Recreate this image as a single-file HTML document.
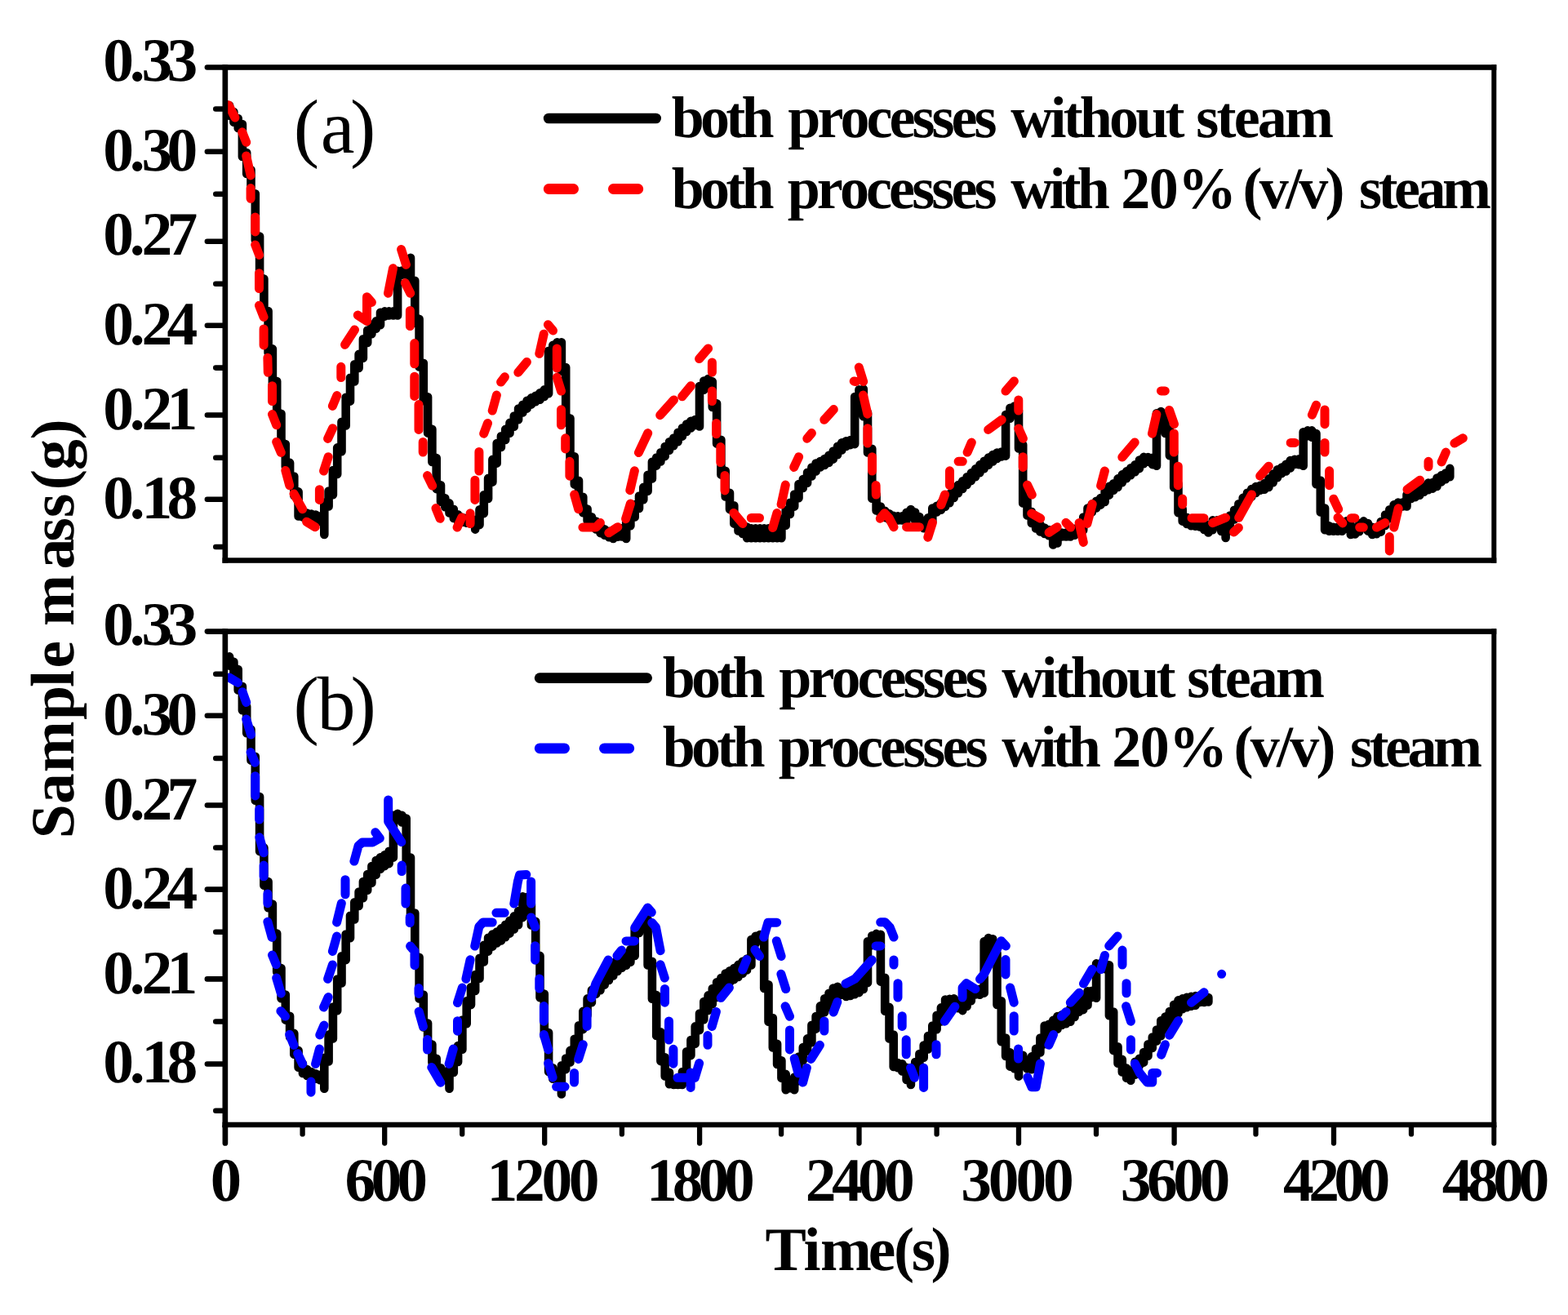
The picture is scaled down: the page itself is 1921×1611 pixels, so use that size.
<!DOCTYPE html>
<html lang="en">
<head>
<meta charset="utf-8">
<title>Sample mass vs time</title>
<style>
html,body{margin:0;padding:0;background:#fff;}
body{width:1921px;height:1611px;overflow:hidden;font-family:"Liberation Serif","Times New Roman",serif;}
svg{display:block;}
svg text{white-space:pre;}
</style>
</head>
<body>
<svg width="1921" height="1611" viewBox="0 0 1921 1611" font-family="'Liberation Serif', 'Times New Roman', serif" style="display:block;font-kerning:none" text-rendering="geometricPrecision">
<rect width="1921" height="1611" fill="#fff"/>
<clipPath id="cpA"><rect x="274" y="86" width="1556" height="598"/></clipPath><clipPath id="cpB"><rect x="274" y="777" width="1556" height="598"/></clipPath>
<g id="panel-a-curves" clip-path="url(#cpA)">
<path d="M275.8 127V134.1M281.1 129.3V141.8M275.8 131.6L281.1 131.8M286.4 137V149.8M281.1 139.3L286.4 139.5M291.7 145V156.9M286.4 147.3L291.7 147.5M296.9 152.1V191.9M291.7 154.4L296.9 154.6M302.2 187V212.9M296.9 189.4L302.2 189.5M307.5 208.1V242.1M302.2 210.4L307.5 210.6M312.8 237.2V294.3M307.5 239.6L312.8 239.7M318.1 289.5V346.4M312.8 291.8L318.1 292M323.4 341.5V385.8M318.1 343.9L323.4 344M328.6 381V432.2M323.4 383.3L328.6 383.5M333.9 427.4V471.9M328.6 429.7L333.9 429.9M339.2 467.1V511.5M333.9 469.4L339.2 469.6M344.5 506.7V548.9M339.2 509L344.5 509.2M349.8 544.1V571.7M344.5 546.4L349.8 546.6M355.1 566.9V588.4M349.8 569.2L355.1 569.4M360.3 583.6V607.2M355.1 585.9L360.3 586.1M365.6 602.4V632.5M360.3 604.7L365.6 604.9M370.9 627.5V633.5M365.6 630L370.9 630M376.2 628.6V634.5M370.9 631L376.2 631.1M381.5 629.6V635.6M376.2 632L381.5 632.1M386.8 630.6V637.1M381.5 633.1L386.8 633.1M392 632.2V639.1M386.8 634.6L392 634.7M397.3 615.6V654.9M392 636.6L397.3 636.7M402.6 601.5V620.4M397.3 618.1L402.6 617.9M407.9 576.1V606.3M402.6 604L407.9 603.8M413.2 548.4V580.9M407.9 578.6L413.2 578.4M418.5 516.8V553.2M413.2 550.9L418.5 550.7M423.7 486.8V521.5M418.5 519.3L423.7 519M429 462.8V491.6M423.7 489.3L429 489.1M434.3 446.2V467.5M429 465.3L434.3 465M439.6 433.9V450.9M434.3 448.7L439.6 448.4M444.9 415.2V438.7M439.6 436.4L444.9 436.2M450.2 404.5V419.9M444.9 417.7L450.2 417.4M455.4 397.9V409.3M450.2 407L455.4 406.8M460.7 393.4V402.7M455.4 400.4L460.7 400.2M466 382.7V398.3M460.7 395.9L466 395.8M471.3 381.4V387.6M466 385.2L471.3 385.1M476.6 381.4V386.4M471.3 383.9L476.6 383.9M481.9 381.4V386.4M476.6 383.9L481.9 383.9M487.1 331.8V386.4M481.9 383.9L487.1 383.9M492.4 331.5V336.8M487.1 334.3L492.4 334.3M497.7 329.5V336.5M492.4 334L497.7 334M503 315.8V348.5M497.7 332L503 331.8M508.3 343.7V395.6M503 346L508.3 346.2M513.6 390.8V449.5M508.3 393.1L513.6 393.3M518.8 444.7V491.2M513.6 447L518.8 447.2M524.1 486.3V530.6M518.8 488.7L524.1 488.8M529.4 525.8V565.9M524.1 528.1L529.4 528.3M534.7 561V599.1M529.4 563.4L534.7 563.5M540 594.3V615M534.7 596.6L540 596.8M545.3 610.2V621.2M540 612.5L545.3 612.7M550.5 616.4V628.5M545.3 618.7L550.5 618.9M555.8 623.8V635M550.5 626L555.8 626.3M561.1 630.2V638.7M555.8 632.5L561.1 632.7M566.4 633.7V639.7M561.1 636.2L566.4 636.2M571.7 634.7V640.7M566.4 637.2L571.7 637.2M577 635.8V641.8M571.7 638.2L577 638.3M582.2 636.8V648.6M577 639.3L582.2 639.3M587.5 624.3V643.1M582.2 640.9L587.5 640.6M592.8 606.3V629.1M587.5 626.8L592.8 626.6M598.1 585.9V611M592.8 608.8L598.1 608.5M603.4 562.9V590.6M598.1 588.4L603.4 588.1M608.7 543.1V567.6M603.4 565.4L608.7 565.1M613.9 534.2V547.9M608.7 545.6L613.9 545.4M619.2 525.9V539M613.9 536.7L619.2 536.5M624.5 517.9V530.7M619.2 528.4L624.5 528.2M629.8 509.5V522.7M624.5 520.4L629.8 520.2M635.1 500.6V514.3M629.8 512L635.1 511.8M640.4 495.8V505.5M635.1 503.1L640.4 503M645.6 490.8V500.6M640.4 498.3L645.6 498.1M650.9 487.4V495.6M645.6 493.3L650.9 493.1M656.2 484.8V492.3M650.9 489.9L656.2 489.8M661.5 481.2V489.7M656.2 487.3L661.5 487.2M666.8 477.4V486M661.5 483.7L666.8 483.5M672.1 429.7V482.3M666.8 479.9L672.1 479.8M677.3 422.9V434.4M672.1 432.2L677.3 431.9M682.6 419.2V427.8M677.3 425.4L682.6 425.3M687.9 419.2V454.8M682.6 421.7L687.9 421.7M693.2 450V517.4M687.9 452.3L693.2 452.5M698.5 512.6V563.9M693.2 514.9L698.5 515.1M703.8 559.2V593.6M698.5 561.4L703.8 561.7M709 588.8V613.5M703.8 591.1L709 591.3M714.3 608.8V628.2M709 611L714.3 611.3M719.6 623.5V638.1M714.3 625.7L719.6 626M724.9 633.2V643.3M719.6 635.6L724.9 635.7M730.2 638.5V648.5M724.9 640.8L730.2 641M735.5 643.6V653.1M730.2 646L735.5 646.1M740.7 648.2V655.8M735.5 650.6L740.7 650.7M746 650.9V658.3M740.7 653.3L746 653.4M751.3 652.9V659.9M746 655.8L751.3 655.9M756.6 648.1V657.7M751.3 655.4L756.6 655.2M761.9 647.4V657.5M756.6 650.6L761.9 650.4M767.2 639.5V659.9M761.9 655L767.2 655.1M772.4 628.7V644.2M767.2 642L772.4 641.7M777.7 618.1V633.5M772.4 631.2L777.7 631M783 607.5V622.9M777.7 620.6L783 620.4M788.3 596.9V612.3M783 610L788.3 609.8M793.6 581.7V601.7M788.3 599.4L793.6 599.2M798.9 565.8V586.4M793.6 584.2L798.9 583.9M804.2 560.6V570.6M798.9 568.3L804.2 568.1M809.4 554.3V565.4M804.2 563.1L809.4 562.9M814.7 547V559.1M809.4 556.8L814.7 556.6M820 541.3V551.8M814.7 549.5L820 549.3M825.3 536.5V546.2M820 543.8L825.3 543.7M830.6 529.8V541.3M825.3 539L830.6 538.8M835.9 524.2V534.6M830.6 532.3L835.9 532.1M841.1 519.6V529M835.9 526.7L841.1 526.5M846.4 515.8V524.5M841.1 522.1L846.4 522M851.7 514.1V520.9M846.4 518.3L851.7 518.2M857 473V522.5M851.7 518.4L857 518.5M862.3 466.6V477.8M857 475.5L862.3 475.3M867.6 464.1V472.2M862.3 469.1L867.6 469M872.8 467.4V499M867.6 469.7L872.8 469.9M878.1 494.3V543.6M872.8 496.5L878.1 496.8M883.4 538.8V581.6M878.1 541.1L883.4 541.3M888.7 576.8V608.5M883.4 579.1L888.7 579.3M894 603.7V624.1M888.7 606L894 606.2M899.3 619.3V641.6M894 621.6L899.3 621.8M904.5 636.8V650.4M899.3 639.1L904.5 639.3M909.8 645.5V653.9M904.5 647.9L909.8 648M915.1 645.5V659.2M909.8 651.4L915.1 651.5M920.4 647.2V659.2M915.1 653.2L920.4 653.2M925.7 647.2V659.2M920.4 653.2L925.7 653.2M931 647.2V659.2M925.7 653.2L931 653.2M936.2 647.2V659.2M931 653.2L936.2 653.2M941.5 647.2V659.2M936.2 653.2L941.5 653.2M946.8 647.2V659.2M941.5 653.2L946.8 653.2M952.1 647.2V659.2M946.8 653.2L952.1 653.2M957.4 635.5V659.2M952.1 653.2L957.4 653.2M962.7 625.1V643.8M957.4 641.5L962.7 641.3M967.9 615.7V629.9M962.7 627.6L967.9 627.4M973.2 605.5V620.6M967.9 618.2L973.2 618.1M978.5 593.1V610.3M973.2 608L978.5 607.8M983.8 587.1V598M978.5 595.6L983.8 595.5M989.1 578.7V591.8M983.8 589.6L989.1 589.3M994.4 572.6V583.5M989.1 581.2L994.4 581M999.6 567.5V577.4M994.4 575.1L999.6 574.9M1004.9 565V572.4M999.6 570L1004.9 569.9M1010.2 562V569.9M1004.9 567.5L1010.2 567.4M1015.5 557.8V566.9M1010.2 564.5L1015.5 564.4M1020.8 552.5V562.6M1015.5 560.3L1020.8 560.1M1026.1 546.7V557.3M1020.8 555L1026.1 554.8M1031.3 542.2V551.5M1026.1 549.2L1031.3 549M1036.6 540.2V547M1031.3 544.7L1036.6 544.5M1041.9 539.1V545.1M1036.6 542.7L1041.9 542.6M1047.2 486V544.1M1041.9 541.6L1047.2 541.6M1052.5 477.3V490.8M1047.2 488.5L1052.5 488.3M1057.8 476.6V510.3M1052.5 479.8L1057.8 479.6M1063 505.5V554.5M1057.8 507.8L1063 508M1068.3 549.8V610.7M1063 552L1068.3 552.3M1073.6 605.9V625.4M1068.3 608.2L1073.6 608.4M1078.9 620.5V630.6M1073.6 622.9L1078.9 623M1084.2 625.8V634.1M1078.9 628.1L1084.2 628.3M1089.5 629.2V636.8M1084.2 631.6L1089.5 631.7M1094.7 631.9V637.4M1089.5 634.3L1094.7 634.4M1100 632.4V637.4M1094.7 634.9L1100 634.9M1105.3 632.4V637.4M1100 634.9L1105.3 634.9M1110.6 627.8V637.4M1105.3 634.9L1110.6 634.9M1115.9 624.1V632.6M1110.6 630.3L1115.9 630.1M1121.2 627.5V637.8M1115.9 629.8L1121.2 630M1126.4 633V643.1M1121.2 635.3L1126.4 635.5M1131.7 638.3V647.3M1126.4 640.6L1131.7 640.8M1137 634.2V649M1131.7 644.8L1137 645M1142.3 622.6V639M1137 636.7L1142.3 636.5M1147.6 619.8V627.5M1142.3 625.1L1147.6 625M1152.9 615.9V624.7M1147.6 622.3L1152.9 622.2M1158.1 611.4V620.8M1152.9 618.4L1158.1 618.2M1163.4 605.1V616.2M1158.1 613.9L1163.4 613.7M1168.7 599.3V609.9M1163.4 607.6L1168.7 607.4M1174 594.1V604.2M1168.7 601.8L1174 601.7M1179.3 589.2V598.9M1174 596.6L1179.3 596.4M1184.6 584.2V594M1179.3 591.7L1184.6 591.5M1189.8 579.4V589.1M1184.6 586.7L1189.8 586.6M1195.1 574.4V584.2M1189.8 581.9L1195.1 581.7M1200.4 569.4V579.2M1195.1 576.9L1200.4 576.7M1205.7 564.8V574.2M1200.4 571.9L1205.7 571.7M1211 560.6V569.7M1205.7 567.3L1211 567.2M1216.3 557V565.5M1211 563.1L1216.3 563M1221.5 554.6V561.9M1216.3 559.5L1221.5 559.4M1226.8 553.6V559.5M1221.5 557.1L1226.8 557M1232.1 508.1V558.6M1226.8 556.1L1232.1 556.1M1237.4 499.7V512.8M1232.1 510.6L1237.4 510.3M1242.7 497.5V508.1M1237.4 502.2L1242.7 502.1M1248 503.3V549.5M1242.7 505.6L1248 505.8M1253.2 544.8V616.4M1248 547L1253.2 547.2M1258.5 611.7V631.4M1253.2 613.9L1258.5 614.2M1263.8 626.7V641M1258.5 628.9L1263.8 629.2M1269.1 636.2V647.4M1263.8 638.5L1269.1 638.7M1274.4 642.6V651.4M1269.1 644.9L1274.4 645.1M1279.7 646.5V653.9M1274.4 648.9L1279.7 649M1284.9 649V656.3M1279.7 651.4L1284.9 651.5M1290.2 651.4V667.5M1284.9 653.8L1290.2 653.9M1295.5 652.5V665.5M1290.2 663.3L1295.5 663M1300.8 652.5V657.5M1295.5 655L1300.8 655M1306.1 652.5V657.5M1300.8 655L1306.1 655M1311.4 650.8V657.5M1306.1 655L1311.4 655M1316.6 647.7V655.7M1311.4 653.3L1316.6 653.2M1321.9 644.5V652.5M1316.6 650.2L1321.9 650M1327.2 633.6V649.4M1321.9 647L1327.2 646.9M1332.5 622.6V638.3M1327.2 636.1L1332.5 635.8M1337.8 617.6V627.4M1332.5 625.1L1337.8 624.9M1343.1 613.8V622.5M1337.8 620.1L1343.1 620M1348.4 610.1V618.6M1343.1 616.3L1348.4 616.1M1353.6 601.9V614.9M1348.4 612.6L1353.6 612.4M1358.9 595.9V606.6M1353.6 604.4L1358.9 604.1M1364.2 592.2V600.7M1358.9 598.4L1364.2 598.2M1369.5 586.4V597M1364.2 594.7L1369.5 594.5M1374.8 581.4V591.2M1369.5 588.9L1374.8 588.7M1380.1 577.4V586.2M1374.8 583.9L1380.1 583.7M1385.3 573.3V582.2M1380.1 579.9L1385.3 579.7M1390.6 569.3V578.2M1385.3 575.8L1390.6 575.7M1395.9 563.5V574.1M1390.6 571.8L1395.9 571.6M1401.2 559.9V568.3M1395.9 566L1401.2 565.8M1406.5 560.1V565.8M1401.2 562.6L1406.5 562.6M1411.8 560.9V569.1M1406.5 563.3L1411.8 563.4M1417 506.2V570.7M1411.8 566.6L1417 566.7M1422.3 504.1V512M1417 508.7L1422.3 508.6M1427.6 507.3V530.9M1422.3 509.5L1427.6 509.8M1432.9 526.2V558.2M1427.6 528.4L1432.9 528.7M1438.2 553.5V597.2M1432.9 555.7L1438.2 556M1443.5 592.5V628.2M1438.2 594.7L1443.5 595M1448.7 623.5V638.6M1443.5 625.7L1448.7 626M1454 633.8V642M1448.7 636.1L1454 636.3M1459.3 637.2V644.2M1454 639.5L1459.3 639.7M1464.6 639.3V644.8M1459.3 641.7L1464.6 641.8M1469.9 639.9V645.4M1464.6 642.3L1469.9 642.4M1475.2 640.4V649M1469.9 642.9L1475.2 642.9M1480.4 644.1V652.4M1475.2 646.5L1480.4 646.6M1485.7 637.4V649.2M1480.4 646.9L1485.7 646.7M1491 637.4V643.4M1485.7 639.9L1491 639.9M1496.3 638.5V650.9M1491 640.9L1496.3 641M1501.6 645.3V659M1496.3 648.4L1501.6 648.6M1506.9 631.6V650.1M1501.6 647.8L1506.9 647.6M1512.1 624.8V636.4M1506.9 634.1L1512.1 633.9M1517.4 617.3V629.6M1512.1 627.3L1517.4 627.1M1522.7 609.9V622.1M1517.4 619.8L1522.7 619.6M1528 603.8V614.7M1522.7 612.4L1528 612.2M1533.3 599.1V608.6M1528 606.3L1533.3 606.1M1538.6 596V604M1533.3 601.6L1538.6 601.5M1543.8 594.8V600.8M1538.6 598.5L1543.8 598.3M1549.1 592.1V599.7M1543.8 597.3L1549.1 597.2M1554.4 586.3V596.9M1549.1 594.6L1554.4 594.4M1559.7 580.5V591.2M1554.4 588.8L1559.7 588.7M1565 575.3V585.3M1559.7 583L1565 582.8M1570.3 572.6V580.1M1565 577.8L1570.3 577.6M1575.5 568.7V577.5M1570.3 575.1L1575.5 575M1580.8 564V573.5M1575.5 571.2L1580.8 571M1586.1 562.7V569M1580.8 566.5L1586.1 566.5M1591.4 562.4V569.3M1586.1 565.2L1591.4 565.2M1596.7 529.3V570.7M1591.4 566.8L1596.7 566.9M1602 527.4V534.2M1596.7 531.8L1602 531.7M1607.2 527.4V535.8M1602 529.9L1607.2 529.9M1612.5 531V593.3M1607.2 533.3L1612.5 533.5M1617.8 588.5V627.5M1612.5 590.8L1617.8 591M1623.1 622.6V649.2M1617.8 625L1623.1 625.1M1628.4 644.3V650.7M1623.1 646.7L1628.4 646.8M1633.7 645.7V650.7M1628.4 648.2L1633.7 648.2M1638.9 645.7V650.7M1633.7 648.2L1638.9 648.2M1644.2 643V650.7M1638.9 648.2L1644.2 648.2M1649.5 638.4V647.8M1644.2 645.5L1649.5 645.3M1654.8 642.7V654.9M1649.5 644.9L1654.8 645.2M1660.1 646.5V654.4M1654.8 652L1660.1 651.9M1665.4 641.1V651.3M1660.1 649L1665.4 648.8M1670.6 638.4V645.9M1665.4 643.6L1670.6 643.4M1675.9 641V650.6M1670.6 643.4L1675.9 643.5M1681.2 645.8V654.9M1675.9 648.1L1681.2 648.3M1686.5 646.7V654.3M1681.2 651.9L1686.5 651.8M1691.8 639.1V651.6M1686.5 649.2L1691.8 649.1M1697.1 630.5V643.9M1691.8 641.6L1697.1 641.4M1702.3 624.2V635.3M1697.1 633L1702.3 632.8M1707.6 618.4V629M1702.3 626.7L1707.6 626.5M1712.9 615.5V623.2M1707.6 620.9L1712.9 620.7M1718.2 615.5V620.5M1712.9 618L1718.2 618M1723.5 606.1V620.5M1718.2 618L1723.5 618M1728.8 604.1V611M1723.5 608.6L1728.8 608.5M1734 601.9V609.1M1728.8 606.6L1734 606.6M1739.3 597.8V606.7M1734 604.4L1739.3 604.2M1744.6 595.5V602.8M1739.3 600.3L1744.6 600.3M1749.9 591.6V600.3M1744.6 598L1749.9 597.8M1755.2 591.1V598.6M1749.9 594.8L1755.2 594.9M1760.5 585.6V595.9M1755.2 593.6L1760.5 593.4M1765.7 582.4V590.5M1760.5 588.1L1765.7 588M1771 579.5V587.3M1765.7 584.9L1771 584.8M1776.3 573.9V584.3M1771 582L1776.3 581.8" fill="none" stroke="#000" stroke-width="10.6" stroke-linecap="round" stroke-linejoin="round"/>
<path d="M280 128.7L287.9 144.1 M296.7 161.8L301.7 174.3 M301.7 191L307.1 214.9 M307.1 230.6L307.1 243.3 M312.7 266L312.7 283.9 M312.7 299.9L317.5 312.4 M317.5 334.7L317.5 353.6 M317.5 374.2L323.1 388.4 M323.1 402.9L323.1 422.9 M327.9 438.3L328.3 456.2 M333.5 472.7L333.5 491.6 M333.5 507.6L338.7 520.8 M338.7 541.4L344.3 554.5 M349.8 576.4L354.7 594.7 M360 604.9L370.6 623.8 M375.6 639.2L386.2 645.7 M391.4 599.7L391.4 612.4 M396.6 577L402.2 559.7 M401.6 537.4L407.6 524.7 M407.4 497.4L412.8 484.5 M417.8 449.3L417.8 462.5 M422.6 422.3L434.5 404 M438.3 386.1L449.5 393.5L449.5 363.7L455.4 370.4 M475.5 359.3L481.5 328.7 M491.6 305.6L497.5 324.3 M496.4 346.6L502.7 359.3 M502.4 380.5L502.4 399.5 M507.8 420.6L507.8 445.8 M507.8 461.2L507.8 485.4 M513 495.6L513 526.4 M518.2 541.4L518.2 554.1 M523.6 582.6L529.7 595.1 M534 622.6L539.2 635.3 M560.1 646.1L565.7 634 M576.1 628.8L576.1 641.5 M581.9 588.2L581.9 612.4 M586.9 553.5L586.9 577 M592.7 531.2L597.5 518.5 M603.2 503.1L608.4 484.1 M613.6 468.1L618.4 461.8 M634.8 456.2L645.4 443.5 M660.8 433.3L666.2 409.2 M671.4 397.7L677.5 405 M682.3 426.9L682.3 451 M682.3 462.3L687.5 479.1 M687.5 501.8L687.5 520.8 M692.7 536.8L692.7 549.9 M697.9 565.3L697.9 583.2 M703.7 605.9L708.7 623.8 M713.9 646.1L730.2 646.1L735.4 640.5 M745.8 652.8L756.8 645.7 M766.6 635.7L772.4 617 M771.8 600.7L777.4 576.8 M782.4 554.5L793.7 530.6 M808.7 508.7L825.5 489.9 M835.7 485.8L846.4 472.7 M856.6 439.6L867.6 426.9 M872.4 443.9L872.4 456.2 M872.4 478.9L872.4 491.6 M877.6 518.5L877.6 531.8 M882.8 547.6L882.8 566.6 M888 582.4L888 600.9 M898.8 628.4L909.9 641.5 M920.3 634.5L930.5 634.5 M946.7 646.5L951.9 628.6 M957.1 618L962.3 594.1 M972.7 572.4L978.6 559.7 M988.8 537.2L994.4 530.6 M1009.8 514.3L1021.3 501.6 M1046.2 467L1048.7 467.5 M1052.3 450L1057.7 467.5 M1057.5 484.1L1062.9 507.2 M1062.9 524.7L1062.9 543 M1068.5 559.7L1068.5 577 M1073.1 594.5L1073.3 606.1 M1078.3 635.3L1083.7 628.8L1089.3 634.7L1095 645.7 M1110.6 645.7L1126.4 645.7 M1136.8 658.2L1142.4 640.3 M1152.9 618.6L1157.6 605.9 M1163.5 576.8L1163.5 594.7 M1174.1 565.3L1179.3 565.3 M1185.1 554.1L1190.3 542 M1210.7 526.4L1227.2 514.3 M1232 479.1L1242.4 467 M1247.8 489.9L1247.8 503.1 M1247.8 524.9L1253.4 537.2 M1253.2 559.7L1253.2 572.4 M1258.6 594.1L1264.3 606.1 M1263.8 629L1274.7 635.1 M1285.1 652.4L1295.1 645.7 M1305.9 640.3L1311.7 646.1 M1322.1 640.5L1327.3 664.4 M1331.9 641.5L1338.2 617.6 M1348.6 595.1L1353.4 577 M1374.8 560.1L1390.2 542 M1411.5 531.2L1416.9 507.6 M1422.5 478.9L1427.3 478.9 M1432.5 502.4L1438.5 519.5 M1438.3 531L1438.3 554.1 M1443.3 571.2L1443.3 594.7 M1448.7 611.1L1448.7 618 M1460 634.7L1475 634.7 M1485.6 640.7L1501.6 634.2 M1511.6 651.9L1517.4 646.5 M1517.7 634.2L1533.5 605.9 M1543.7 583.2L1554.3 571.2 M1581.2 542.4L1586.4 542.4 M1607.4 508.3L1612.6 496.2 M1623 502L1623 519.7 M1623 542.4L1623 554.1 M1628.6 576.8L1628.6 594.7 M1633.8 611.3L1639.7 623.8 M1639 634.2L1644.9 640.9 M1655.3 634.7L1659.9 634.7 M1665.7 646.1L1670.3 646.1 M1686.5 646.1L1696.9 640.5 M1707.8 646.1L1713.2 622.8 M1702.3 657.6L1702.3 674.9 M1724 599.7L1739.6 588.2 M1750 565.3L1750 571.8 M1766.1 566L1771.3 554.1 M1781.9 543L1792.3 536.8" fill="none" stroke="#f00" stroke-width="11" stroke-linecap="round" stroke-linejoin="round"/>
</g>
<g id="panel-b-curves" clip-path="url(#cpB)">
<path d="M275.8 803.5V809.3M281.1 804.4V815.6M275.8 806.8L281.1 806.9M286.4 810.8V824.7M281.1 813.1L286.4 813.3M291.7 820V845.5M286.4 822.2L291.7 822.5M296.9 840.7V870.2M291.7 843L296.9 843.2M302.2 865.5V898.3M296.9 867.7L302.2 868M307.5 893.6V931.6M302.2 895.8L307.5 896.1M312.8 926.8V980.8M307.5 929.1L312.8 929.3M318.1 976V1043.1M312.8 978.3L318.1 978.5M323.4 1038.4V1084.8M318.1 1040.6L323.4 1040.9M328.6 1080V1112.3M323.4 1082.3L328.6 1082.5M333.9 1107.6V1148.3M328.6 1109.8L333.9 1110.1M339.2 1143.6V1190.7M333.9 1145.8L339.2 1146.1M344.5 1186V1223.3M339.2 1188.2L344.5 1188.5M349.8 1218.5V1249.6M344.5 1220.8L349.8 1221M355.1 1244.8V1270.6M349.8 1247.1L355.1 1247.3M360.3 1265.9V1291.7M355.1 1268.1L360.3 1268.4M365.6 1286.9V1307.8M360.3 1289.2L365.6 1289.4M370.9 1303V1314.9M365.6 1305.3L370.9 1305.5M376.2 1310.1V1318M370.9 1312.4L376.2 1312.6M381.5 1313.1V1320.2M376.2 1315.5L381.5 1315.6M386.8 1315.3V1321.6M381.5 1317.7L386.8 1317.8M392 1316.7V1323.2M386.8 1319.1L392 1319.2M397.3 1295.8V1333.8M392 1320.7L397.3 1320.8M402.6 1267.6V1300.5M397.3 1298.3L402.6 1298M407.9 1233.5V1272.4M402.6 1270.1L407.9 1269.9M413.2 1199.6V1238.2M407.9 1236L413.2 1235.7M418.5 1171.3V1204.4M413.2 1202.1L418.5 1201.9M423.7 1144.5V1176.1M418.5 1173.8L423.7 1173.6M429 1121.8V1149.3M423.7 1147L429 1146.8M434.3 1105.2V1126.5M429 1124.3L434.3 1124M439.6 1092.5V1110M434.3 1107.7L439.6 1107.5M444.9 1080V1100.3M439.6 1095L444.9 1094.8M450.2 1071.1V1090.8M444.9 1085.5L450.2 1085.3M455.4 1061V1081.8M450.2 1076.6L455.4 1076.3M460.7 1054V1071.7M455.4 1066.5L460.7 1066.2M466 1050.2V1064.8M460.7 1059.5L466 1059.3M471.3 1047.2V1061.1M466 1055.7L471.3 1055.6M476.6 1042.8V1058.1M471.3 1052.7L476.6 1052.6M481.9 998.9V1050.6M476.6 1048.3L481.9 1048.1M487.1 996.8V1003.7M481.9 1001.4L487.1 1001.2M492.4 998.7V1007.5M487.1 1001.1L492.4 1001.2M497.7 1002.6V1055.3M492.4 1005L497.7 1005.1M503 1050.5V1123.2M497.7 1052.8L503 1053M508.3 1118.5V1177.5M503 1120.7L508.3 1121M513.6 1172.7V1223.4M508.3 1175L513.6 1175.2M518.8 1218.6V1258.4M513.6 1220.9L518.8 1221.1M524.1 1253.6V1284.3M518.8 1255.9L524.1 1256.1M529.4 1279.6V1301.5M524.1 1281.8L529.4 1282.1M534.7 1296.7V1313M529.4 1299L534.7 1299.2M540 1308.2V1319.6M534.7 1310.5L540 1310.7M545.3 1314.8V1323.1M540 1317.1L545.3 1317.3M550.5 1309.2V1333.8M545.3 1320.6L550.5 1320.7M555.8 1296.1V1314M550.5 1311.7L555.8 1311.5M561.1 1281V1300.9M555.8 1298.6L561.1 1298.4M566.4 1249.5V1285.8M561.1 1283.5L566.4 1283.3M571.7 1226.3V1254.2M566.4 1252L571.7 1251.7M577 1209.2V1231.1M571.7 1228.8L577 1228.6M582.2 1194V1214M577 1211.7L582.2 1211.5M587.5 1173.7V1198.7M582.2 1196.5L587.5 1196.2M592.8 1157.8V1178.4M587.5 1176.2L592.8 1175.9M598.1 1148.8V1165.6M592.8 1160.3L598.1 1160.1M603.4 1144.6V1159.6M598.1 1154.3L603.4 1154.1M608.7 1141.5V1155.5M603.4 1150.1L608.7 1150M613.9 1137.4V1152.4M608.7 1147L613.9 1146.9M619.2 1132.7V1148.2M613.9 1142.9L619.2 1142.7M624.5 1127.7V1143.6M619.2 1138.2L624.5 1138.1M629.8 1122.4V1138.5M624.5 1133.2L629.8 1133M635.1 1116.1V1133.2M629.8 1127.9L635.1 1127.7M640.4 1098.3V1124.1M635.1 1121.6L640.4 1121.6M645.6 1099V1112.3M640.4 1101.3L645.6 1101.5M650.9 1107.5V1133.5M645.6 1109.8L650.9 1110M656.2 1128.7V1175.6M650.9 1131L656.2 1131.2M661.5 1170.9V1222.3M656.2 1173.1L661.5 1173.4M666.8 1217.5V1269.9M661.5 1219.8L666.8 1220M672.1 1265.1V1313.1M666.8 1267.4L672.1 1267.6M677.3 1308.3V1321.7M672.1 1310.6L677.3 1310.8M682.6 1314.7V1321.1M677.3 1318.7L682.6 1318.6M687.9 1305.3V1340.5M682.6 1318.3L687.9 1318.5M693.2 1296.6V1310.1M687.9 1307.8L693.2 1307.6M698.5 1286.9V1301.4M693.2 1299.1L698.5 1298.9M703.8 1272.8V1291.7M698.5 1289.4L703.8 1289.2M709 1256.3V1277.6M703.8 1275.3L709 1275.1M714.3 1238.9V1261.1M709 1258.8L714.3 1258.6M719.6 1223.4V1243.7M714.3 1241.4L719.6 1241.2M724.9 1212.9V1228.2M719.6 1225.9L724.9 1225.7M730.2 1205.5V1217.7M724.9 1215.4L730.2 1215.2M735.5 1195.8V1213.3M730.2 1208L735.5 1207.8M740.7 1190.1V1206.6M735.5 1201.3L740.7 1201.1M746 1184.6V1200.9M740.7 1195.6L746 1195.4M751.3 1179.2V1195.4M746 1190.1L751.3 1189.9M756.6 1175V1190M751.3 1184.7L756.6 1184.5M761.9 1171.8V1185.8M756.6 1180.5L761.9 1180.3M767.2 1167.9V1182.7M761.9 1177.3L767.2 1177.2M772.4 1163.1V1178.7M767.2 1173.4L772.4 1173.2M777.7 1138.1V1170.9M772.4 1168.6L777.7 1168.4M783 1130.6V1142.9M777.7 1140.6L783 1140.4M788.3 1127.5V1135.4M783 1133.1L788.3 1132.9M793.6 1126.2V1182.5M788.3 1130L793.6 1129.8M798.9 1177.7V1223.8M793.6 1180L798.9 1180.2M804.2 1219V1268.9M798.9 1221.3L804.2 1221.5M809.4 1264.2V1300.1M804.2 1266.4L809.4 1266.7M814.7 1295.3V1318.4M809.4 1297.6L814.7 1297.8M820 1313.7V1328.3M814.7 1315.9L820 1316.2M825.3 1323.5V1329M820 1325.8L825.3 1326M830.6 1324V1329M825.3 1326.5L830.6 1326.5M835.9 1313V1329M830.6 1326.5L835.9 1326.5M841.1 1288.3V1317.8M835.9 1315.5L841.1 1315.3M846.4 1274V1293.1M841.1 1290.8L846.4 1290.6M851.7 1257.4V1278.8M846.4 1276.5L851.7 1276.3M857 1241.5V1262.1M851.7 1259.9L857 1259.6M862.3 1227.1V1249.3M857 1244L862.3 1243.8M867.6 1219.4V1237.9M862.3 1232.6L867.6 1232.4M872.8 1211.1V1230.2M867.6 1224.9L872.8 1224.7M878.1 1203.2V1221.9M872.8 1216.6L878.1 1216.4M883.4 1198V1214M878.1 1208.7L883.4 1208.5M888.7 1192.6V1208.8M883.4 1203.5L888.7 1203.3M894 1189.2V1203.5M888.7 1198.1L894 1198M899.3 1186.1V1200.1M894 1194.7L899.3 1194.6M904.5 1181.9V1196.9M899.3 1191.6L904.5 1191.4M909.8 1177.7V1192.8M904.5 1187.4L909.8 1187.3M915.1 1174.6V1188.5M909.8 1183.2L915.1 1183M920.4 1151V1182.5M915.1 1180.1L920.4 1180M925.7 1146.7V1155.9M920.4 1153.5L925.7 1153.4M931 1145V1151.6M925.7 1149.2L931 1149.1M936.2 1145V1211M931 1147.5L936.2 1147.5M941.5 1206.2V1251.8M936.2 1208.5L941.5 1208.7M946.8 1247V1283.5M941.5 1249.3L946.8 1249.5M952.1 1278.8V1304M946.8 1281L952.1 1281.3M957.4 1299.2V1320.7M952.1 1301.5L957.4 1301.7M962.7 1315.9V1335.3M957.4 1318.2L962.7 1318.4M967.9 1326.1V1333.2M962.7 1330.9L967.9 1330.7M973.2 1319.5V1335.3M967.9 1330.7L973.2 1330.9M978.5 1294.5V1324.3M973.2 1322L978.5 1321.8M983.8 1283.1V1299.3M978.5 1297L983.8 1296.8M989.1 1272.4V1287.8M983.8 1285.6L989.1 1285.3M994.4 1255.8V1277.2M989.1 1274.9L994.4 1274.7M999.6 1245.1V1260.6M994.4 1258.3L999.6 1258.1M1004.9 1232.4V1249.9M999.6 1247.6L1004.9 1247.4M1010.2 1223.2V1240.2M1004.9 1234.9L1010.2 1234.7M1015.5 1216.7V1234M1010.2 1228.7L1015.5 1228.5M1020.8 1210.6V1227.5M1015.5 1222.2L1020.8 1222M1026.1 1208.8V1221.5M1020.8 1216.1L1026.1 1216M1031.3 1211.6V1218.7M1026.1 1214.3L1031.3 1214.2M1036.6 1209V1221M1031.3 1215.6L1036.6 1215.5M1041.9 1207.3V1219.9M1036.6 1214.5L1041.9 1214.4M1047.2 1205.2V1218.2M1041.9 1212.8L1047.2 1212.7M1052.5 1201V1216.1M1047.2 1210.7L1052.5 1210.6M1057.8 1196.3V1211.9M1052.5 1206.5L1057.8 1206.4M1063 1153.3V1204.1M1057.8 1201.8L1063 1201.6M1068.3 1146.3V1158.1M1063 1155.8L1068.3 1155.6M1073.6 1143.9V1151.2M1068.3 1148.8L1073.6 1148.7M1078.9 1144.7V1202.6M1073.6 1146.9L1078.9 1147.2M1084.2 1197.8V1238.7M1078.9 1200.1L1084.2 1200.3M1089.5 1233.9V1272.4M1084.2 1236.2L1089.5 1236.4M1094.7 1267.6V1306.9M1089.5 1269.9L1094.7 1270.1M1100 1302V1308.2M1094.7 1304.4L1100 1304.5M1105.3 1303.2V1312.5M1100 1305.7L1105.3 1305.7M1110.6 1307.7V1322.9M1105.3 1310L1110.6 1310.2M1115.9 1311.8V1329M1110.6 1320.4L1115.9 1320.6M1121.2 1301.1V1316.6M1115.9 1314.3L1121.2 1314.1M1126.4 1291V1305.9M1121.2 1303.6L1126.4 1303.4M1131.7 1280.6V1295.8M1126.4 1293.5L1131.7 1293.3M1137 1269V1285.4M1131.7 1283.1L1137 1282.9M1142.3 1256.5V1273.7M1137 1271.5L1142.3 1271.2M1147.6 1243.7V1261.2M1142.3 1259L1147.6 1258.7M1152.9 1234.4V1251.5M1147.6 1246.2L1152.9 1246M1158.1 1224.6V1245.2M1152.9 1239.9L1158.1 1239.7M1163.4 1223.7V1235.4M1158.1 1230.1L1163.4 1229.9M1168.7 1223.2V1234.7M1163.4 1229.2L1168.7 1229.2M1174 1226.2V1235.3M1168.7 1228.7L1174 1228.7M1179.3 1222.2V1238.1M1174 1232.8L1179.3 1232.6M1184.6 1215.4V1233M1179.3 1227.7L1184.6 1227.5M1189.8 1210.5V1226.2M1184.6 1220.9L1189.8 1220.7M1195.1 1211.6V1218.4M1189.8 1216L1195.1 1215.9M1200.4 1211.7V1218.7M1195.1 1215L1200.4 1215.1M1205.7 1153.2V1216.6M1200.4 1214.2L1205.7 1214.1M1211 1149.1V1158.1M1205.7 1155.7L1211 1155.6M1216.3 1150.2V1172.2M1211 1152.5L1216.3 1152.7M1221.5 1167.5V1231M1216.3 1169.7L1221.5 1170M1226.8 1226.2V1276.3M1221.5 1228.5L1226.8 1228.7M1232.1 1271.6V1293.9M1226.8 1273.8L1232.1 1274.1M1237.4 1289.2V1306.6M1232.1 1291.4L1237.4 1291.7M1242.7 1301.7V1309.2M1237.4 1304.1L1242.7 1304.2M1248 1300.9V1318.6M1242.7 1306.7L1248 1306.8M1253.2 1292.8V1305.6M1248 1303.4L1253.2 1303.1M1258.5 1299.6V1309.5M1253.2 1301.9L1258.5 1302.1M1263.8 1294.4V1310.3M1258.5 1307L1263.8 1307.1M1269.1 1284.7V1299.2M1263.8 1296.9L1269.1 1296.7M1274.4 1271.5V1289.5M1269.1 1287.2L1274.4 1287M1279.7 1256.6V1279.3M1274.4 1274L1279.7 1273.8M1284.9 1254.8V1267.4M1279.7 1262.1L1284.9 1261.9M1290.2 1249.9V1265.7M1284.9 1260.3L1290.2 1260.2M1295.5 1245.1V1260.7M1290.2 1255.4L1295.5 1255.2M1300.8 1243.3V1256M1295.5 1250.6L1300.8 1250.5M1306.1 1241V1254.3M1300.8 1248.8L1306.1 1248.8M1311.4 1235.1V1251.8M1306.1 1246.5L1311.4 1246.3M1316.6 1229V1245.9M1311.4 1240.6L1316.6 1240.4M1321.9 1226.3V1239.8M1316.6 1234.5L1321.9 1234.3M1327.2 1220.8V1237.1M1321.9 1231.8L1327.2 1231.6M1332.5 1214.2V1231.6M1327.2 1226.3L1332.5 1226.1M1337.8 1213.7V1222M1332.5 1219.7L1337.8 1219.5M1343.1 1180.4V1222.8M1337.8 1218.1L1343.1 1218.3M1348.4 1180.4V1185.4M1343.1 1182.9L1348.4 1182.9M1353.6 1180.4V1187.1M1348.4 1182.9L1353.6 1182.9M1358.9 1182.2V1244.2M1353.6 1184.6L1358.9 1184.7M1364.2 1239.5V1287.1M1358.9 1241.7L1364.2 1242M1369.5 1282.3V1302.7M1364.2 1284.6L1369.5 1284.8M1374.8 1297.9V1313.4M1369.5 1300.2L1374.8 1300.4M1380.1 1308.6V1320.8M1374.8 1310.9L1380.1 1311.1M1385.3 1312.1V1323.8M1380.1 1318.3L1385.3 1318.4M1390.6 1300.7V1316.8M1385.3 1314.6L1390.6 1314.3M1395.9 1296.7V1305.5M1390.6 1303.2L1395.9 1303M1401.2 1289V1301.6M1395.9 1299.2L1401.2 1299.1M1406.5 1279.2V1293.7M1401.2 1291.5L1406.5 1291.2M1411.8 1270.6V1283.9M1406.5 1281.7L1411.8 1281.4M1417 1261.5V1275.4M1411.8 1273.1L1417 1272.9M1422.3 1250.3V1269.2M1417 1264L1422.3 1263.7M1427.6 1245.6V1261.1M1422.3 1255.8L1427.6 1255.6M1432.9 1239.1V1256.4M1427.6 1251.1L1432.9 1250.9M1438.2 1230.8V1249.9M1432.9 1244.6L1438.2 1244.4M1443.5 1225.4V1241.6M1438.2 1236.3L1443.5 1236.1M1448.7 1223.4V1236.3M1443.5 1230.9L1448.7 1230.8M1454 1221.8V1234.3M1448.7 1228.9L1454 1228.8M1459.3 1220.7V1232.8M1454 1227.3L1459.3 1227.3M1464.6 1220V1231.7M1459.3 1226.2L1464.6 1226.2M1469.9 1223V1228M1464.6 1225.5L1469.9 1225.5M1475.2 1222.6V1228M1469.9 1225.5L1475.2 1225.5M1480.4 1222V1227.5M1475.2 1225.1L1480.4 1225" fill="none" stroke="#000" stroke-width="10.6" stroke-linecap="round" stroke-linejoin="round"/>
<path d="M280.8 830L291.4 836.4 M297.1 847.7L301.7 860.4 M301.7 881L307.5 899.9 M307.1 921.6L312.5 934.3 M312.7 950.7L312.7 974.9 M317.7 991.4L317.7 1004.1 M317.9 1025.7L323.1 1044.7 M323.1 1060.1L323.1 1073.8 M433.9 1055.1L439.1 1036.1L443.9 1032L456.4 1032L465.3 1027L459.9 1019.7 M475.7 979.9L475.7 1006.6L491.8 1031.5 M492.2 1060.1L492.2 1067.6 M327.9 1095L327.9 1106.7 M327.9 1129.3L333.1 1148.3 M333.5 1170L338.3 1181.6 M338.7 1198.1L344.3 1217 M343.9 1238.7L349.5 1245.1 M354.7 1267.4L360 1280.5 M364.7 1290.7L370.6 1303.4 M381 1325.1L381 1338.2 M386.6 1303.4L391.4 1285.1 M391.8 1268L397 1256 M396.6 1234.1L402.2 1221.6 M401.6 1199.3L407.4 1182 M407.4 1165.4L412.6 1147 M412.6 1130L418.3 1106.7 M423 1077.7L423 1095.8 M497 1088.1L497 1107.1 M502.2 1123.7L502.2 1130.6 M502.6 1159.1L508 1165.4L508 1182.7 M513 1210.6L513 1217.4 M513.2 1239.3L518.4 1257.6 M523.6 1273.6L523.6 1286.1 M528.8 1307.6L539.7 1326.3 M550.1 1303.4L555.3 1285.1 M560.5 1250.7L560.5 1263.2 M560.5 1228.5L566.3 1210.1 M570.9 1199.3L576.1 1175.8 M581.7 1159.1L586.9 1135.2L591.7 1130L603.2 1130 M607.9 1118.3L618.2 1118.3 M629.8 1107.1L634.4 1080L636.5 1072.1L644.8 1071.5 M650.6 1080L650.6 1107.1 M650.8 1123.9L655.6 1135.6 M655.6 1158.7L655.6 1176.2 M660.8 1198.9L660.8 1211 M666.4 1232.6L666.4 1251.2 M666.4 1267.6L671.7 1285.9 M671.7 1302.6L677.1 1319.9 M681.6 1331.3L692.1 1331.3 M703.5 1314.5L703.5 1326.1 M708.7 1297.4L714.3 1279.7 M719.1 1239.1L719.1 1257.4 M724.7 1222.4L730 1204.7L745.2 1176 M756 1171L761.4 1164.1 M767 1152.9L777.4 1152.9 M777.8 1136.4L793.5 1112.1L798.3 1117.7 M798.7 1130.4L803.5 1136L809.1 1164.7 M809.1 1181.8L814.3 1198.1 M814.5 1211.4L814.5 1228.2 M819.5 1250.9L819.5 1274.1 M824.9 1285.3L824.9 1303.2 M829.9 1320.3L846.1 1320.3 M846.1 1314L846.1 1332.4 M851.3 1320.3L856.6 1302.6 M867 1268.6L867 1280.3 M872.2 1257.4L877.4 1239.5 M883.2 1222.4L893.4 1209.9 M909.7 1188.1L914.9 1175.6 M924.9 1163.5L930.5 1171.4 M935.7 1148.1L940.9 1130.2L951.7 1130.2 M951.3 1152.7L957.1 1171.4 M956.9 1193.3L962.7 1211.6 M962.1 1232.8L967.5 1245.3 M967.5 1262L967.5 1285.9 M973.2 1296.8L977.9 1314.7 M983.6 1326.1L988.4 1308.2 M993.6 1297.4L1004.4 1280.3 M1009.8 1250.9L1009.8 1263 M1021.1 1240.1L1025.8 1227.6 M1036 1205.1L1047.5 1199.1L1068.3 1176 M1073.1 1158.9L1078.7 1158.9 M1078.7 1129.8L1084.3 1129.8L1090.2 1136L1095 1148.1 M1095 1176L1095 1182 M1100 1204.7L1100 1222 M1105.2 1244.7L1105.2 1257.4 M1110.2 1273.8L1110.2 1291.8 M1115.6 1308.2L1120.4 1320.3 M1131.6 1308.2L1131.6 1332.4 M1147 1279.7L1147 1291.8 M1157.4 1251.2L1169.9 1233.2 M1179.1 1222L1179.1 1209.9L1183.9 1204.7L1194.9 1211.6 M1200.5 1199.5L1205.7 1193.3L1226.6 1152.7L1232.4 1158.9 M1232 1175.6L1232 1193.9 M1237.6 1209.9L1242.2 1228.2 M1242.2 1244.7L1242.2 1263 M1247.6 1284.9L1247.6 1297 M1258.8 1319.7L1264 1331.7L1269.2 1331.7L1274.4 1303 M1284.9 1280.3L1290.5 1267.6 M1300.5 1245.3L1306.1 1239.5 M1311.3 1228.2L1322.3 1216.2 M1327.5 1205.1L1338 1187.4 M1348.7 1187.6L1353.5 1170.4 M1358.7 1158.9L1369.1 1147 M1375 1164.1L1375 1182 M1380 1204.7L1380 1216.8 M1379.6 1232.8L1385.4 1251.2 M1385.4 1273.8L1385.4 1286.1 M1390.4 1303L1396.2 1314.5L1405.6 1326.1L1411.8 1326.1L1411.8 1314.5L1417.5 1314.5 M1422.7 1292.2L1427.4 1279.7 M1432.7 1268.2L1443.5 1250.5 M1459.5 1228.2L1475.1 1215.8 M1496.6 1193.3L1496.7 1193.3" fill="none" stroke="#00f" stroke-width="11" stroke-linecap="round" stroke-linejoin="round"/>
</g>
<g id="axes" fill="#000">
<rect x="272.5" y="79.2" width="6.7" height="610.6"/>
<rect x="1827.3" y="79.2" width="6" height="610.6"/>
<rect x="272.5" y="79.2" width="1560.8" height="6.6"/>
<rect x="272.5" y="683.3" width="1560.8" height="6.5"/>
<path d="M253.9 82.5H274.5" stroke="#000" stroke-width="6.6" stroke-linecap="round" fill="none"/>
<path d="M264.3 133.5H274.5" stroke="#000" stroke-width="6.6" stroke-linecap="round" fill="none"/>
<path d="M253.9 185.8H274.5" stroke="#000" stroke-width="6.6" stroke-linecap="round" fill="none"/>
<path d="M264.3 237.8H274.5" stroke="#000" stroke-width="6.6" stroke-linecap="round" fill="none"/>
<path d="M253.9 295.7H274.5" stroke="#000" stroke-width="6.6" stroke-linecap="round" fill="none"/>
<path d="M264.3 347.7H274.5" stroke="#000" stroke-width="6.6" stroke-linecap="round" fill="none"/>
<path d="M253.9 398.7H274.5" stroke="#000" stroke-width="6.6" stroke-linecap="round" fill="none"/>
<path d="M264.3 450.6H274.5" stroke="#000" stroke-width="6.6" stroke-linecap="round" fill="none"/>
<path d="M253.9 508.5H274.5" stroke="#000" stroke-width="6.6" stroke-linecap="round" fill="none"/>
<path d="M264.3 560.7H274.5" stroke="#000" stroke-width="6.6" stroke-linecap="round" fill="none"/>
<path d="M253.9 611.8H274.5" stroke="#000" stroke-width="6.6" stroke-linecap="round" fill="none"/>
<path d="M264.3 670H274.5" stroke="#000" stroke-width="6.6" stroke-linecap="round" fill="none"/>
<rect x="272.5" y="770.3" width="6.7" height="610.9"/>
<rect x="1827.3" y="770.3" width="6" height="610.9"/>
<rect x="272.5" y="770.3" width="1560.8" height="6.6"/>
<rect x="272.5" y="1374.7" width="1560.8" height="6.5"/>
<path d="M253.9 773.6H274.5" stroke="#000" stroke-width="6.6" stroke-linecap="round" fill="none"/>
<path d="M264.3 825.7H274.5" stroke="#000" stroke-width="6.6" stroke-linecap="round" fill="none"/>
<path d="M253.9 876.7H274.5" stroke="#000" stroke-width="6.6" stroke-linecap="round" fill="none"/>
<path d="M264.3 929H274.5" stroke="#000" stroke-width="6.6" stroke-linecap="round" fill="none"/>
<path d="M253.9 986.5H274.5" stroke="#000" stroke-width="6.6" stroke-linecap="round" fill="none"/>
<path d="M264.3 1038.5H274.5" stroke="#000" stroke-width="6.6" stroke-linecap="round" fill="none"/>
<path d="M253.9 1089.6H274.5" stroke="#000" stroke-width="6.6" stroke-linecap="round" fill="none"/>
<path d="M264.3 1141.8H274.5" stroke="#000" stroke-width="6.6" stroke-linecap="round" fill="none"/>
<path d="M253.9 1199.4H274.5" stroke="#000" stroke-width="6.6" stroke-linecap="round" fill="none"/>
<path d="M264.3 1251.5H274.5" stroke="#000" stroke-width="6.6" stroke-linecap="round" fill="none"/>
<path d="M253.9 1303.5H274.5" stroke="#000" stroke-width="6.6" stroke-linecap="round" fill="none"/>
<path d="M264.3 1360.8H274.5" stroke="#000" stroke-width="6.6" stroke-linecap="round" fill="none"/>
<path d="M275.9 1379.5V1400.5" stroke="#000" stroke-width="6.7" stroke-linecap="round" fill="none"/>
<path d="M370.6 1379.5V1389.4" stroke="#000" stroke-width="6.3" stroke-linecap="round" fill="none"/>
<path d="M471.2 1379.5V1400.6" stroke="#000" stroke-width="6.3" stroke-linecap="round" fill="none"/>
<path d="M566.2 1379.5V1389.4" stroke="#000" stroke-width="6.3" stroke-linecap="round" fill="none"/>
<path d="M667.2 1379.5V1400.6" stroke="#000" stroke-width="6.3" stroke-linecap="round" fill="none"/>
<path d="M761.9 1379.5V1389.4" stroke="#000" stroke-width="6.3" stroke-linecap="round" fill="none"/>
<path d="M857.1 1379.5V1400.6" stroke="#000" stroke-width="6.3" stroke-linecap="round" fill="none"/>
<path d="M957.1 1379.5V1389.4" stroke="#000" stroke-width="6.3" stroke-linecap="round" fill="none"/>
<path d="M1052.5 1379.5V1400.6" stroke="#000" stroke-width="6.3" stroke-linecap="round" fill="none"/>
<path d="M1147.6 1379.5V1389.4" stroke="#000" stroke-width="6.3" stroke-linecap="round" fill="none"/>
<path d="M1248 1379.5V1400.6" stroke="#000" stroke-width="6.3" stroke-linecap="round" fill="none"/>
<path d="M1343 1379.5V1389.4" stroke="#000" stroke-width="6.3" stroke-linecap="round" fill="none"/>
<path d="M1438.6 1379.5V1400.6" stroke="#000" stroke-width="6.3" stroke-linecap="round" fill="none"/>
<path d="M1538.5 1379.5V1389.4" stroke="#000" stroke-width="6.3" stroke-linecap="round" fill="none"/>
<path d="M1634 1379.5V1400.6" stroke="#000" stroke-width="6.3" stroke-linecap="round" fill="none"/>
<path d="M1729 1379.5V1389.4" stroke="#000" stroke-width="6.3" stroke-linecap="round" fill="none"/>
<path d="M1830.3 1379.5V1400.8" stroke="#000" stroke-width="6" stroke-linecap="round" fill="none"/>
</g>
<g id="ticklabels">
<text x="126.3 158.7 173.4 204.6" y="99.4" font-size="75.5" font-weight="bold">0.33</text>
<text x="126.3 158.7 173.4 204.6" y="790.2" font-size="75.5" font-weight="bold">0.33</text>
<text x="126.3 158.7 173.4 204.6" y="209.4" font-size="75.5" font-weight="bold">0.30</text>
<text x="126.3 158.7 173.4 204.6" y="900.2" font-size="75.5" font-weight="bold">0.30</text>
<text x="126.3 158.7 173.4 204.6" y="311.9" font-size="75.5" font-weight="bold">0.27</text>
<text x="126.3 158.7 173.4 204.6" y="1004.1" font-size="75.5" font-weight="bold">0.27</text>
<text x="126.3 158.7 173.4 204.6" y="421.9" font-size="75.5" font-weight="bold">0.24</text>
<text x="126.3 158.7 173.4 204.6" y="1113.2" font-size="75.5" font-weight="bold">0.24</text>
<text x="126.3 158.7 173.4 204.6" y="526.1" font-size="75.5" font-weight="bold">0.21</text>
<text x="126.3 158.7 173.4 204.6" y="1216.9" font-size="75.5" font-weight="bold">0.21</text>
<text x="126.3 158.7 173.4 204.6" y="635.2" font-size="75.5" font-weight="bold">0.18</text>
<text x="126.3 158.7 173.4 204.6" y="1326.4" font-size="75.5" font-weight="bold">0.18</text>
<text transform="translate(260.7 1470.5) scale(1.0157 1)" x="-2.9" y="0" font-size="75.5" font-weight="bold" fill="#000">0</text>
<text x="422.4 454.4 486.3" y="1470.5" font-size="75.5" font-weight="bold" fill="#000">600</text>
<text x="596.5 629.9 663.4 696.8" y="1470.5" font-size="75.5" font-weight="bold" fill="#000">1200</text>
<text x="792 823.7 855.4 887.1" y="1470.5" font-size="75.5" font-weight="bold" fill="#000">1800</text>
<text x="986.8 1018.9 1051 1083.1" y="1470.5" font-size="75.5" font-weight="bold" fill="#000">2400</text>
<text x="1177.2 1210.8 1244.5 1278.1" y="1470.5" font-size="75.5" font-weight="bold" fill="#000">3000</text>
<text x="1372.8 1405 1437.2 1469.4" y="1470.5" font-size="75.5" font-weight="bold" fill="#000">3600</text>
<text x="1572 1603.2 1634.3 1665.5" y="1470.5" font-size="75.5" font-weight="bold" fill="#000">4200</text>
<text x="1766.8 1798 1829.2 1860.4" y="1470.5" font-size="75.5" font-weight="bold" fill="#000">4800</text>
</g>
<g id="titles">
<text x="937.5 984.4 1005 1063.7 1094.9 1116.7 1140.5" y="1555.6" font-size="75.5" font-weight="bold">Time(s)</text>
<text transform="translate(90.2 0) rotate(-90)" x="-1027.3 -984.9 -946.2 -882.1 -842 -818.6 -785.1 -767.1 -697.5 -663.5 -633.9 -600.2 -575.9 -538.4" y="0" font-size="75.5" font-weight="bold">Sample mass(g)</text>
</g>
<g id="legend">
<text x="359.7 392.7 429" y="186.6" font-size="94">(a)</text>
<text x="359.6 388.5 429.5" y="894" font-size="94">(b)</text>
<path d="M672.1 145H803.7" stroke="#000" stroke-width="12.6" stroke-linecap="round" fill="none"/>
<path d="M672.2 231.5h30.4M751.4 231.5h30.4" stroke="#f00" stroke-width="12.8" stroke-linecap="round" fill="none"/>
<text x="822.8 858 889.3 908.4 916.4 965.3 1001.4 1029.4 1061.4 1089.4 1117.4 1141.5 1165.5 1193.5 1201.5 1238.3 1286.5 1302.7 1322.8 1359 1391.2 1427.4 1435.4 1465.2 1490.5 1511.7 1540.8 1574.1" y="168" font-size="72" font-weight="bold">both processes without steam</text>
<text x="822.8 858 889.3 908.4 916.4 964.7 1000.8 1028.9 1061 1089.1 1117.2 1141.3 1165.5 1193.5 1201.5 1238.3 1285.4 1300.6 1319.7 1327.7 1373.2 1407.7 1442.9 1450.9 1522.4 1542.7 1574.9 1591.2 1623.5 1631.5 1665.1 1688.6 1708.1 1735.6 1767.1" y="254.8" font-size="72" font-weight="bold">both processes with 20% (v/v) steam</text>
<path d="M661.1 830.6H792.7" stroke="#000" stroke-width="12.6" stroke-linecap="round" fill="none"/>
<path d="M661.2 916.8h30.4M740.4 916.8h30.4" stroke="#00f" stroke-width="12.8" stroke-linecap="round" fill="none"/>
<text x="811.8 847 878.3 897.4 905.4 954.3 990.4 1018.4 1050.4 1078.4 1106.4 1130.5 1154.5 1182.5 1190.5 1227.3 1275.5 1291.7 1311.8 1348 1380.2 1416.4 1424.4 1454.2 1479.5 1500.7 1529.8 1563.1" y="853.8" font-size="72" font-weight="bold">both processes without steam</text>
<text x="811.8 847 878.3 897.4 905.4 953.7 989.8 1017.9 1050 1078.1 1106.2 1130.3 1154.5 1182.5 1190.5 1227.3 1274.4 1289.6 1308.7 1316.7 1362.2 1396.7 1431.9 1439.9 1511.4 1531.7 1563.9 1580.2 1612.5 1620.5 1654.1 1677.6 1697.1 1724.6 1756.1" y="939.4" font-size="72" font-weight="bold">both processes with 20% (v/v) steam</text>
</g>
</svg>
</body>
</html>
